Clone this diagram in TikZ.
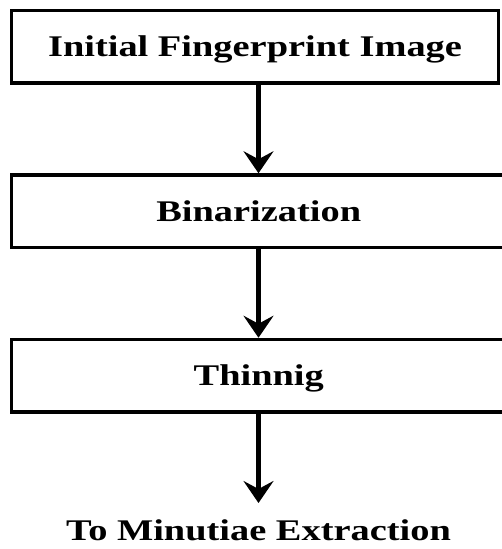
\documentclass[tikz,border=0pt]{standalone}
\usepackage{fontspec}
\setmainfont{Liberation Serif}
\usepackage{graphicx}
\usetikzlibrary{arrows.meta}
\tikzset{
    stage/.style={draw, line width=3.5pt, inner sep=0pt, text height=20pt, text depth=0pt,
        font=\bfseries\fontsize{30}{30}\selectfont},
    flow/.style={line width=5pt, -{Stealth[length=22pt,width=30pt,inset=8pt]}}
}
\newcommand{\wide}[1]{\scalebox{1.28}[1]{#1}}
\begin{document}
\begin{tikzpicture}[x=1pt,y=-1pt]
        \useasboundingbox (0,0) rectangle (501,549);
        \fill[white] (0,0) rectangle (501,549);
        % stages
        \node[stage, minimum width=487pt, minimum height=72.5pt] (input) at (255,46.75) {\wide{Initial Fingerprint Image}};
        \node[stage, minimum width=494.5pt, minimum height=72.5pt] (binar) at (258.75,211.25) {\wide{Binarization}};
        \node[stage, minimum width=494.5pt, minimum height=72.5pt] (thin) at (258.75,375.75) {\wide{Thinnig}};
        \node[anchor=base, inner sep=0pt, font=\bfseries\fontsize{30}{30}\selectfont] (minut) at (258.5,540.5) {\wide{To Minutiae Extraction}};
        % arrows
        \coordinate (axis) at (258.5,0);
        \coordinate (tipend) at (258.5,503);
        \draw[flow] (input.south -| axis) -- (binar.north -| axis);
        \draw[flow] (binar.south -| axis) -- (thin.north -| axis);
        \draw[flow] (thin.south -| axis) -- (tipend);
    \end{tikzpicture}
\end{document}
